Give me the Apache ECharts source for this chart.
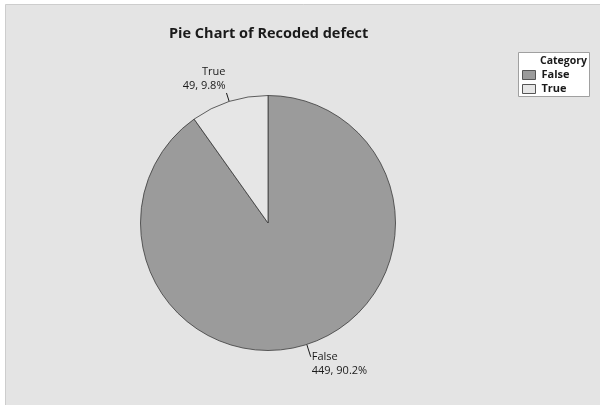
<!DOCTYPE html>
<html>
<head>
<meta charset="utf-8">
<script src="https://cdn.jsdelivr.net/npm/echarts@6/dist/echarts.min.js"></script>
<style>
html,body{margin:0;padding:0;background:#ffffff;}
#chart{width:600px;height:405px;}
</style>
</head>
<body>
<div id="chart"></div>
<script>
var categories = ['False', 'True'];
var counts = [449, 49];
var sliceColors = ['#9b9b9b', '#e6e6e6'];
var chartTitle = 'Pie Chart of Recoded defect';
var legendTitle = 'Category';

var FONT = '"Open Sans", "Noto Sans", sans-serif';

var pieData = categories.map(function (c, i) {
  var item = { name: c, value: counts[i], itemStyle: { color: sliceColors[i] } };
  if (c === 'True') {
    item.label = { formatter: '{b}\n{c}, {d}%\n\n' };
    item.labelLine = { length: 9 };
  } else {
    item.label = { formatter: '\n{b}\n{c}, {d}%' };
    item.labelLine = { length: 13 };
  }
  return item;
});

var chart = echarts.init(document.getElementById('chart'), null, { renderer: 'canvas' });
chart.setOption({
  animation: false,
  backgroundColor: '#ffffff',
  graphic: [
    { type: 'rect', z: 0, silent: true,
      shape: { x: 5.5, y: 4.5, width: 600, height: 410 },
      style: { fill: '#e4e4e4', stroke: '#cdcdcd', lineWidth: 1 } },
    { type: 'rect', z: 1, silent: true,
      shape: { x: 518.5, y: 52.5, width: 71, height: 44 },
      style: { fill: '#ffffff', stroke: '#a0a0a0', lineWidth: 1 } },
    { type: 'text', z: 5, silent: true, right: 13, top: 56,
      style: { text: legendTitle, fill: '#1a1a1a', font: 'bold 10.5px ' + FONT } }
  ],
  title: {
    text: chartTitle,
    left: 169, top: 26, padding: 0,
    textStyle: { fontFamily: FONT, fontSize: 14.5, fontWeight: 'bold', color: '#1a1a1a' }
  },
  legend: {
    orient: 'vertical',
    left: 522, top: 69, padding: 0,
    itemWidth: 13, itemHeight: 9, itemGap: 2,
    icon: 'rect',
    data: categories,
    textStyle: { fontFamily: FONT, fontSize: 11, fontWeight: 'bold', color: '#1a1a1a', lineHeight: 12, padding: [0, 0, 0, 1] },
    itemStyle: { borderColor: '#555555', borderWidth: 1 }
  },
  series: [{
    type: 'pie',
    center: [268, 223],
    radius: 127.5,
    startAngle: 90,
    clockwise: true,
    percentPrecision: 1,
    avoidLabelOverlap: false,
    data: pieData,
    itemStyle: { borderColor: '#3a3a3a', borderWidth: 0.8 },
    emphasis: { disabled: true },
    label: {
      show: true,
      position: 'outside',
      fontFamily: FONT, fontSize: 11, lineHeight: 14,
      color: '#1a1a1a',
      distanceToLabelLine: 1
    },
    labelLine: {
      show: true, length: 10, length2: 0, smooth: false,
      lineStyle: { color: '#1a1a1a', width: 1 }
    }
  }]
});
</script>
</body>
</html>
